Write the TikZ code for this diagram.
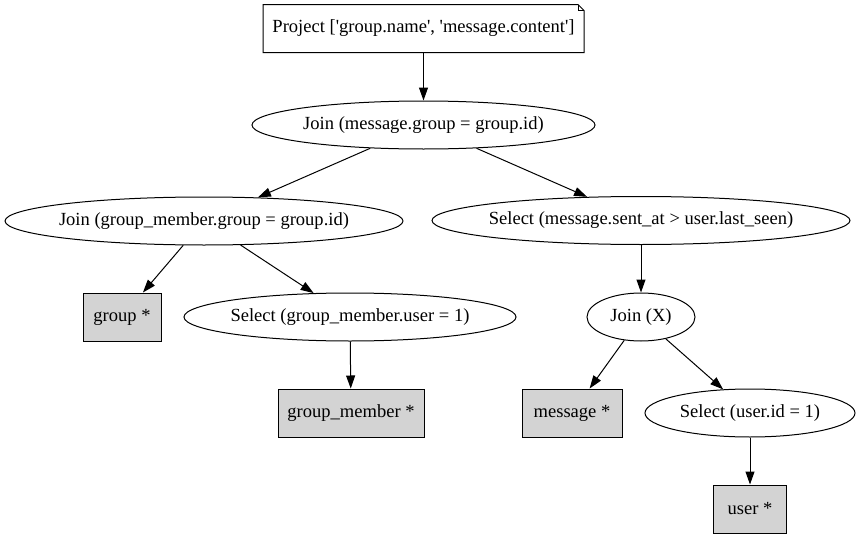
\documentclass[tikz,border=0pt]{standalone}
\usepackage{fontspec}
\setmainfont{Liberation Serif}
\usetikzlibrary{shapes.geometric,arrows.meta,calc}
\tikzset{every picture/.style={line width=0.75pt}}
\newcommand{\sq}{\textquotesingle}
\begin{document}
\begin{tikzpicture}[x=0.75pt,y=0.75pt,yscale=-1,xscale=1,
  font=\fontsize{13.9}{16}\selectfont,
  opnode/.style={draw,ellipse,inner xsep=-5pt,inner ysep=0pt,minimum height=36pt},
  relnode/.style={draw,rectangle,fill={rgb,255:red,211;green,211;blue,211},inner sep=0pt,minimum height=36pt},
  flow/.style={-{Triangle[length=9.75pt,width=6.75pt]}}]
\useasboundingbox (0,0) rectangle (861,539);

%Shape: Note [id:project]
\node [inner sep=0pt,minimum width=240pt,minimum height=35.25pt] (project) at (423.5,28.5) {Project [\sq group.name\sq, \sq message.content\sq]};
\draw (project.south west) -- (project.north west) -- ($(project.north east)+(-6,0)$) -- ($(project.north east)+(0,6)$) -- (project.south east) -- cycle;
\draw ($(project.north east)+(-6,0)$) -- ($(project.north east)+(-6,6)$) -- ($(project.north east)+(0,6)$);

%Shape: Ellipse [id:joinA]
\node [opnode,minimum width=257.25pt] (joinA) at (423.5,125) {Join (message.group = group.id)};
%Shape: Ellipse [id:joinB]
\node [opnode,minimum width=298.5pt] (joinB) at (204,221) {Join (group\_member.group = group.id)};
%Shape: Ellipse [id:selectA]
\node [opnode,minimum width=313.5pt] (selectA) at (641,220.5) {Select (message.sent\_at > user.last\_seen)};
%Shape: Rectangle [id:group]
\node [relnode,minimum width=58.5pt] (group) at (122,317) {group *};
%Shape: Ellipse [id:selectB]
\node [opnode,minimum width=249pt] (selectB) at (350,317) {Select (group\_member.user = 1)};
%Shape: Rectangle [id:member]
\node [relnode,minimum width=109.5pt] (member) at (351,413) {group\_member *};
%Shape: Ellipse [id:joinX]
\node [opnode,minimum width=81pt] (joinX) at (641,317) {Join (X)};
%Shape: Rectangle [id:message]
\node [relnode,minimum width=75pt] (message) at (572,413) {message *};
%Shape: Ellipse [id:selectC]
\node [opnode,minimum width=157.5pt] (selectC) at (750,413) {Select (user.id = 1)};
%Shape: Rectangle [id:user]
\node [relnode,minimum width=54.75pt] (user) at (750,509) {user *};

%Straight Lines
\draw [flow] (project) -- (joinA);
\draw [flow] (joinA) -- (joinB);
\draw [flow] (joinA) -- (selectA);
\draw [flow] (joinB) -- (group);
\draw [flow] (joinB) -- (selectB);
\draw [flow] (selectB) -- (member);
\draw [flow] (selectA) -- (joinX);
\draw [flow] (joinX) -- (message);
\draw [flow] (joinX) -- (selectC);
\draw [flow] (selectC) -- (user);

\end{tikzpicture}
\end{document}
